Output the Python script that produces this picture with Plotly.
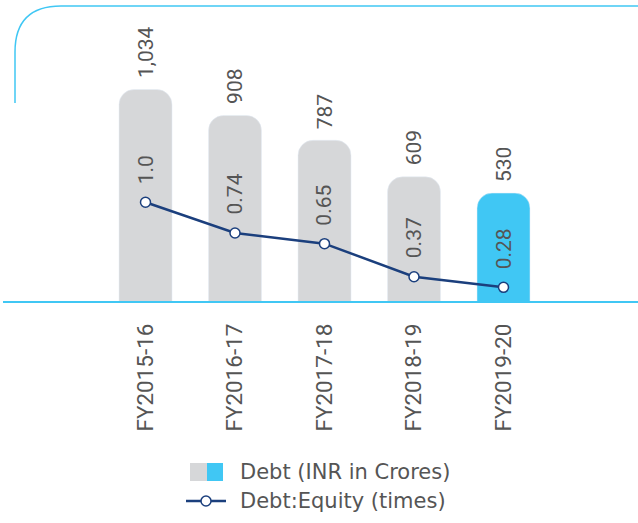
import plotly.graph_objects as go

categories = ["FY2015-16", "FY2016-17", "FY2017-18", "FY2018-19", "FY2019-20"]
debt = [1034, 908, 787, 609, 530]
debt_labels = ["1,034", "908", "787", "609", "530"]
ratio = [1.0, 0.74, 0.65, 0.37, 0.28]
ratio_labels = ["1.0", "0.74", "0.65", "0.37", "0.28"]
legend_names = ["Debt (INR in Crores)", "Debt:Equity (times)"]

GRAY = "#d6d7d9"
BLUE = "#40c7f4"
NAVY = "#1b3f7d"
TXT = "#555555"
bar_colors = [GRAY, GRAY, GRAY, GRAY, BLUE]

W, H = 638, 523
ML, MT = 15, 0
PB = 302  # plot bottom in px
MB = H - PB
PH = PB - MT
PW = W - ML


def px(x):
    return (x - ML) / PW


def py(y):
    return (PB - y) / PH


fig = go.Figure()
fig.add_trace(go.Bar(x=categories, y=debt, marker_color=bar_colors, width=0.592,
                     showlegend=False, hoverinfo="skip"))
fig.add_trace(go.Scatter(x=categories, y=ratio, yaxis="y2", mode="lines+markers",
                         line=dict(color=NAVY, width=2.5),
                         marker=dict(size=10, color="white", line=dict(color=NAVY, width=1.5)),
                         showlegend=False, cliponaxis=False))

annotations = []
for c, v, t in zip(categories, debt, debt_labels):
    annotations.append(dict(x=c, y=v, xref="x", yref="y", text=t, showarrow=False,
                            textangle=-90, yanchor="bottom", xanchor="center", yshift=9,
                            font=dict(family="Roboto", size=21, color=TXT)))
for c, v, t in zip(categories, ratio, ratio_labels):
    annotations.append(dict(x=c, y=v, xref="x", yref="y2", text=t, showarrow=False,
                            textangle=-90, yanchor="bottom", xanchor="center", yshift=16,
                            font=dict(family="Roboto", size=21, color=TXT)))

# custom legend text
annotations.append(dict(x=px(238), y=py(472), xref="paper", yref="paper", text=legend_names[0],
                        showarrow=False, xanchor="left", yanchor="middle",
                        font=dict(family="DejaVu Sans", size=21, color=TXT)))
annotations.append(dict(x=px(238), y=py(501), xref="paper", yref="paper", text=legend_names[1],
                        showarrow=False, xanchor="left", yanchor="middle",
                        font=dict(family="DejaVu Sans", size=21, color=TXT)))

shapes = [
    # decorative rounded corner frame
    dict(type="path", xref="paper", yref="paper",
         path=f"M {px(15)},{py(103)} L {px(15)},{py(52)} Q {px(15)},{py(6)} {px(61)},{py(6)} L {px(640)},{py(6)}",
         line=dict(color=BLUE, width=1.5)),
    # baseline
    dict(type="line", xref="paper", yref="paper", x0=px(3), x1=px(640), y0=py(302), y1=py(302),
         line=dict(color=BLUE, width=2)),
    # legend swatches
    dict(type="rect", xref="paper", yref="paper", x0=px(190), x1=px(207), y0=py(481), y1=py(463),
         fillcolor=GRAY, line=dict(width=0)),
    dict(type="rect", xref="paper", yref="paper", x0=px(207), x1=px(223), y0=py(481), y1=py(463),
         fillcolor=BLUE, line=dict(width=0)),
    dict(type="line", xref="paper", yref="paper", x0=px(186), x1=px(226), y0=py(501), y1=py(501),
         line=dict(color=NAVY, width=2.5)),
    dict(type="circle", xref="paper", yref="paper", x0=px(201), x1=px(211), y0=py(506), y1=py(496),
         fillcolor="white", line=dict(color=NAVY, width=1.5)),
]

# axis ranges derived from the reference's pixel scale
x_left = (15 - 145.5) / 89.5
x_right = (638 - 145.5) / 89.5
y_top = PH / 0.2055
y2_bottom = (320.4 - 302) / 118.1
y2_top = 320.4 / 118.1

fig.update_layout(
    width=W, height=H,
    margin=dict(l=ML, r=0, t=MT, b=MB, pad=0),
    paper_bgcolor="white", plot_bgcolor="white",
    barcornerradius=15,
    showlegend=False,
    xaxis=dict(type="category", range=[x_left, x_right], showgrid=False, zeroline=False,
               showline=False, ticks="", tickangle=-90, ticklabelstandoff=16,
               tickfont=dict(family="Roboto", size=22.5, color=TXT), fixedrange=True),
    yaxis=dict(range=[0, y_top], visible=False, showgrid=False, zeroline=False),
    yaxis2=dict(range=[y2_bottom, y2_top], overlaying="y", side="right", visible=False,
                showgrid=False, zeroline=False),
    annotations=annotations,
    shapes=shapes,
)

fig.write_html("out.html", config={"displayModeBar": False},
               post_script="document.body.style.margin='0';document.body.style.overflow='hidden';")
